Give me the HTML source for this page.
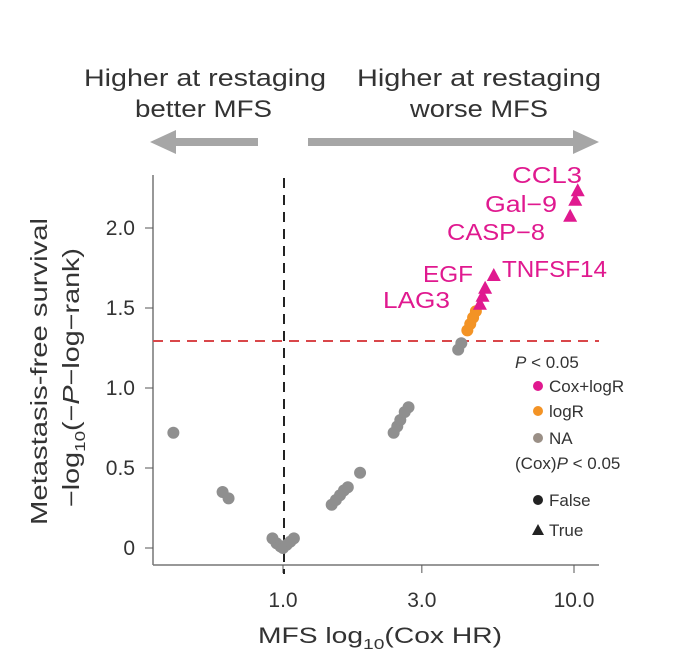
<!DOCTYPE html>
<html><head><meta charset="utf-8"><style>
body{margin:0;background:#fff}
svg text{font-family:"Liberation Sans",sans-serif}
</style></head><body>
<svg width="686" height="667" xmlns="http://www.w3.org/2000/svg">
<g id="header" fill="#333" font-size="24" lengthAdjust="spacingAndGlyphs">
<text x="84" y="86" textLength="242" lengthAdjust="spacingAndGlyphs">Higher at restaging</text>
<text x="135" y="117" textLength="137" lengthAdjust="spacingAndGlyphs">better MFS</text>
<text x="357" y="86" textLength="244" lengthAdjust="spacingAndGlyphs">Higher at restaging</text>
<text x="410" y="117" textLength="138" lengthAdjust="spacingAndGlyphs">worse MFS</text>
</g>
<g fill="#a6a6a6">
<rect x="170" y="138" width="88" height="8"/>
<polygon points="150,142 176,130 176,154"/>
<rect x="308" y="138" width="272" height="8"/>
<polygon points="599,142 573,130 573,154"/>
</g>
<g id="axes" stroke="#777" stroke-width="1.5" fill="none">
<line x1="153" y1="175" x2="153" y2="565"/>
<line x1="153" y1="565" x2="599" y2="565"/>
</g>
<g id="ticks"></g>
<line x1="284" y1="178" x2="284" y2="574" stroke="#222" stroke-width="2" stroke-dasharray="10,7"/>
<line x1="153" y1="341" x2="599" y2="341" stroke="#d9474a" stroke-width="2" stroke-dasharray="10,7"/>
<g id="points"></g>
<g id="labels" fill="#e0198f" font-size="23">
<text x="512" y="183" textLength="70" lengthAdjust="spacingAndGlyphs">CCL3</text>
<text x="485" y="212" textLength="72" lengthAdjust="spacingAndGlyphs">Gal−9</text>
<text x="447" y="240" textLength="98" lengthAdjust="spacingAndGlyphs">CASP−8</text>
<text x="502" y="277" textLength="105" lengthAdjust="spacingAndGlyphs">TNFSF14</text>
<text x="423" y="282" textLength="50" lengthAdjust="spacingAndGlyphs">EGF</text>
<text x="383" y="308" textLength="67" lengthAdjust="spacingAndGlyphs">LAG3</text>
</g>
<g id="legend" fill="#333" font-size="17">
<text x="515" y="368"><tspan font-style="italic">P</tspan> &lt; 0.05</text>
<circle cx="538" cy="386" r="5" fill="#e0198f"/>
<text x="549" y="392">Cox+logR</text>
<circle cx="538" cy="411" r="5" fill="#f39325"/>
<text x="549" y="417">logR</text>
<circle cx="538" cy="438" r="5" fill="#9a8f86"/>
<text x="549" y="444">NA</text>
<text x="515" y="469">(Cox)<tspan font-style="italic">P</tspan> &lt; 0.05</text>
<circle cx="538" cy="500" r="5" fill="#222"/>
<text x="549" y="506">False</text>
<polygon points="538,524 544,535 532,535" fill="#222"/>
<text x="549" y="536">True</text>
</g>
<text x="258" y="643" font-size="22" fill="#333" textLength="244" lengthAdjust="spacingAndGlyphs">MFS log<tspan font-size="15" dy="6">10</tspan><tspan dy="-6">(Cox HR)</tspan></text>
<g transform="translate(47,371) rotate(-90)" font-size="23" fill="#333">
<text x="-154" y="0" textLength="307" lengthAdjust="spacingAndGlyphs">Metastasis-free survival</text>
<text x="-136" y="32" textLength="259" lengthAdjust="spacingAndGlyphs">−log<tspan font-size="15" dy="6">10</tspan><tspan dy="-6">(−</tspan><tspan font-style="italic">P</tspan>−log−rank)</text>
</g>
</svg>
<script>
const hrValues=[0.42,0.62,0.65,0.92,0.95,0.98,1.0,1.03,1.06,1.09,1.47,1.52,1.57,1.62,1.67,1.84,2.40,2.47,2.53,2.62,2.70,4.0,4.1,4.3,4.4,4.5,4.6,4.75,4.85,4.95,5.3,9.7,10.1,10.3];
const pValues=[0.72,0.35,0.31,0.06,0.03,0.01,0.0,0.02,0.04,0.06,0.27,0.30,0.33,0.36,0.38,0.47,0.72,0.76,0.80,0.85,0.88,1.24,1.28,1.36,1.40,1.44,1.48,1.52,1.57,1.62,1.70,2.07,2.17,2.23];
const groups=['NA','NA','NA','NA','NA','NA','NA','NA','NA','NA','NA','NA','NA','NA','NA','NA','NA','NA','NA','NA','NA','NA','NA','logR','logR','logR','logR','Cox+logR','Cox+logR','Cox+logR','Cox+logR','Cox+logR','Cox+logR','Cox+logR'];
const coxSig=[0,0,0,0,0,0,0,0,0,0,0,0,0,0,0,0,0,0,0,0,0,0,0,0,0,0,0,1,1,1,1,1,1,1];
const xTicks=[1,3,10];
const xTickLabels=['1.0','3.0','10.0'];
const yTicks=[0,0.5,1,1.5,2];
const yTickLabels=['0','0.5','1.0','1.5','2.0'];
const NS='http://www.w3.org/2000/svg';
const xs=v=>283+291*Math.log10(v);
const ys=v=>548-160*v;
const colors={'NA':'#8f8f8f','logR':'#f39325','Cox+logR':'#e0198f'};
const tg=document.getElementById('ticks');
xTicks.forEach((t,i)=>{
 const l=document.createElementNS(NS,'line');
 l.setAttribute('x1',xs(t));l.setAttribute('x2',xs(t));l.setAttribute('y1',565);l.setAttribute('y2',573);
 l.setAttribute('stroke','#555');
 
 
 tg.appendChild(l);
 const tx=document.createElementNS(NS,'text');
 tx.setAttribute('x',xs(t));tx.setAttribute('y',607);tx.setAttribute('text-anchor','middle');
 tx.setAttribute('font-size','21');tx.setAttribute('fill','#333');tx.textContent=xTickLabels[i];
 
 
 tg.appendChild(tx);
});
yTicks.forEach((t,i)=>{
 const l=document.createElementNS(NS,'line');
 l.setAttribute('x1',145);l.setAttribute('x2',153);l.setAttribute('y1',ys(t));l.setAttribute('y2',ys(t));
 l.setAttribute('stroke','#555');
 
 
 tg.appendChild(l);
 const tx=document.createElementNS(NS,'text');
 tx.setAttribute('x',135);tx.setAttribute('y',ys(t)+7);tx.setAttribute('text-anchor','end');
 tx.setAttribute('font-size','21');tx.setAttribute('fill','#333');tx.textContent=yTickLabels[i];
 
 
 tg.appendChild(tx);
});
const pg=document.getElementById('points');
hrValues.forEach((h,i)=>{
 const x=xs(h),y=ys(pValues[i]);let el;
 if(coxSig[i]){
  el=document.createElementNS(NS,'polygon');
  el.setAttribute('points',`${x},${y-8} ${x+7},${y+5} ${x-7},${y+5}`);
 }else{
  el=document.createElementNS(NS,'circle');
  el.setAttribute('cx',x);el.setAttribute('cy',y);el.setAttribute('r',6);
 }
 el.setAttribute('fill',colors[groups[i]]);
 
 
 pg.appendChild(el);
});
</script>
</body></html>
